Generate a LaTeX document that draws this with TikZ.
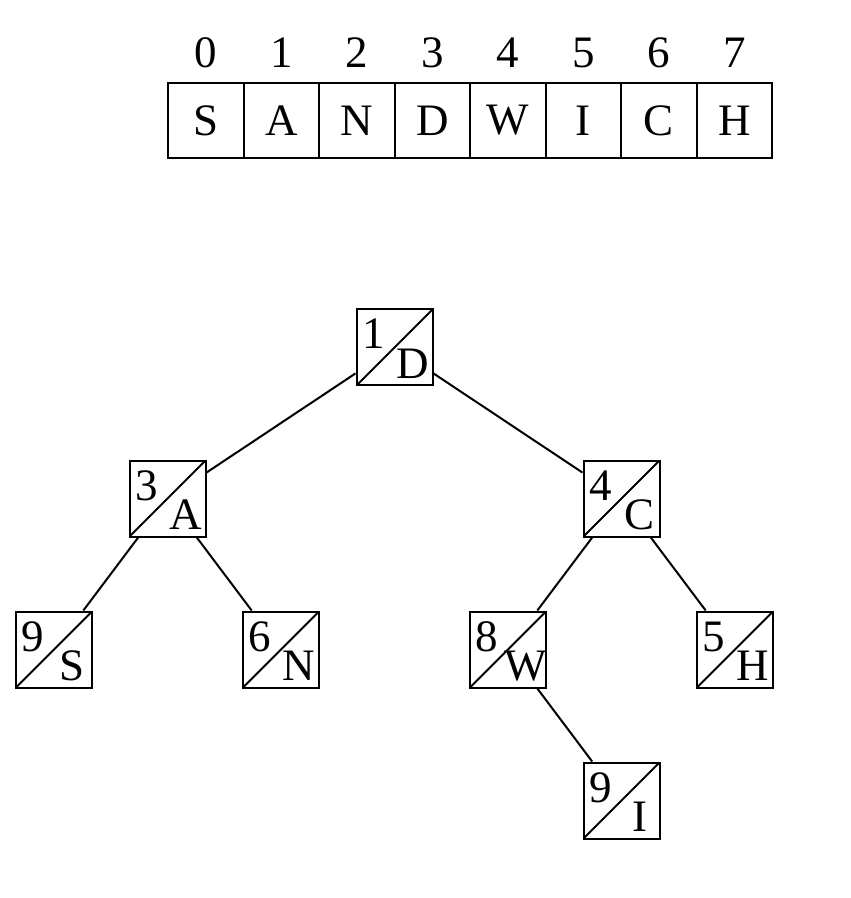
\documentclass[tikz,border=0pt]{standalone}
\usepackage{fontspec}
\setmainfont{Liberation Serif}
\usetikzlibrary{positioning, calc}

\tikzset{
  cell/.style={draw, line width=1pt, minimum width=37.75pt, minimum height=37.5pt, inner sep=0pt},
  keybox/.style={draw, line width=1pt, minimum size=38pt, inner sep=0pt,
    path picture={\draw[line width=1pt] (path picture bounding box.south west) -- (path picture bounding box.north east);}},
  keynum/.style={anchor=base, inner sep=0pt},
  keylet/.style={anchor=base, inner sep=0pt},
}
% number top left, letter bottom right
\newcommand{\keytext}[3]{%
  \node[keynum] (#1n) at ($(#1)+(-10.5pt,-0.75pt)$) {#2};
  \node[keylet] (#1l) at ($(#1)+(9pt,-15.5pt)$) {#3};
}

\begin{document}
\begin{tikzpicture}[font=\fontsize{22.5pt}{27pt}\selectfont, line width=1pt, node distance=75.5pt and 113.5pt, on grid]
    \useasboundingbox (-102.875pt,60.25pt) rectangle (322.125pt,-388.75pt);

    % the array
    \foreach \l [count=\i from 0] in {S,A,N,D,W,I,C,H} {
        \node[cell] (c\i) at (\i*37.75pt,0) {\l};
        \node (i\i) at (\i*37.75pt,33.75pt) {\i};
    }

    % the tree
    \node[keybox] (r) at (94.375pt,-113.5pt) {};
    \node[keybox] (a) [below left=of r] {};
    \node[keybox] (c) [below right=of r] {};
    \node[keybox] (s) [below left=75.5pt and 56.75pt of a] {};
    \node[keybox] (n) [below right=75.5pt and 56.75pt of a] {};
    \node[keybox] (w) [below left=75.5pt and 56.75pt of c] {};
    \node[keybox] (h) [below right=75.5pt and 56.75pt of c] {};
    \node[keybox] (i) [below right=75.5pt and 56.75pt of w] {};

    \keytext{r}{1}{D}
    \keytext{a}{3}{A}
    \keytext{c}{4}{C}
    \keytext{s}{9}{S}
    \keytext{n}{6}{N}
    \keytext{w}{8}{W}
    \keytext{h}{5}{H}
    \keytext{i}{9}{I}

    \path[draw]
    (r) edge (a)
        (r) edge (c)
    (a) edge (s)
        (a) edge (n)
    (c) edge (w)
        (c) edge (h)
    (w) edge (i);
\end{tikzpicture}
\end{document}
